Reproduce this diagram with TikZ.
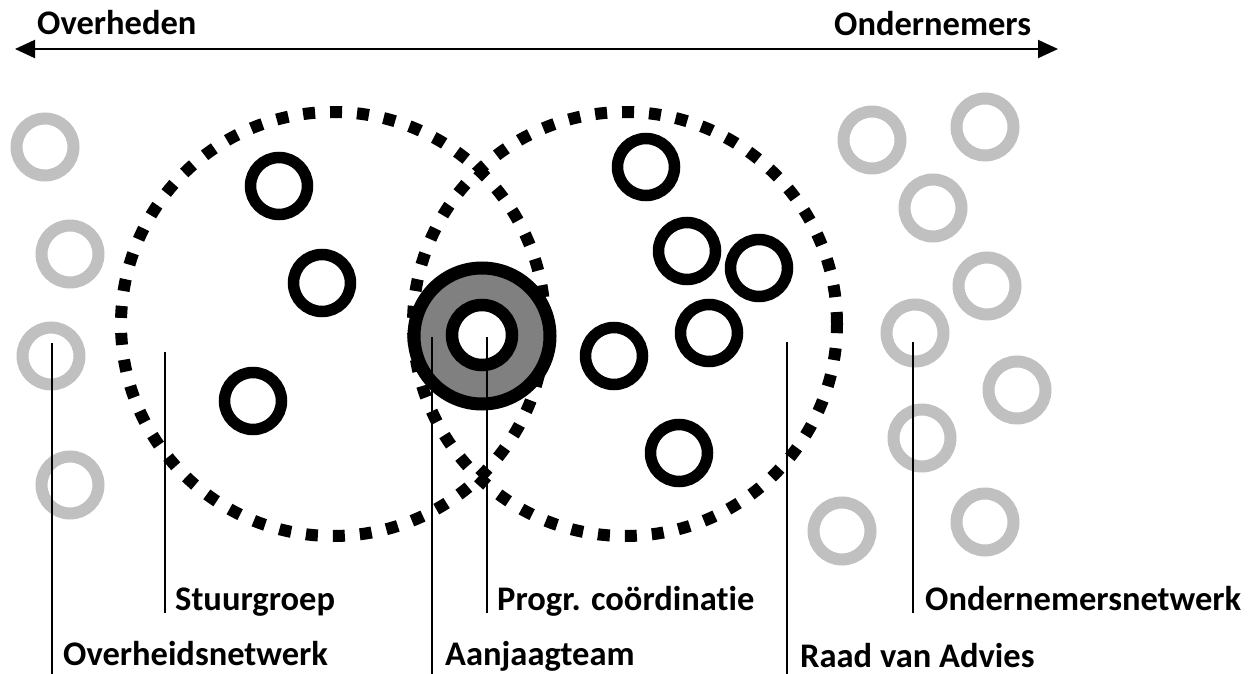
\documentclass[tikz,border=0pt]{standalone}
\usepackage{fontspec}
\setmainfont[Ligatures=NoCommon]{Carlito}
\usetikzlibrary{arrows.meta}
\definecolor{ringgray}{HTML}{C0C0C0}
\definecolor{teamgray}{HTML}{808080}
\tikzset{
  dashcirc/.style={circle, draw=black, line width=12pt, dash pattern=on 12pt off 15pt, inner sep=0pt, minimum size=424pt},
  blackring/.style={circle, draw=black, line width=11.5pt, inner sep=0pt, minimum size=57pt},
  grayring/.style={circle, draw=ringgray, line width=12pt, inner sep=0pt, minimum size=57pt},
  teamcirc/.style={circle, draw=black, fill=teamgray, line width=13pt, inner sep=0pt, minimum size=136pt},
  coordring/.style={circle, draw=black, fill=white, line width=12.5pt, inner sep=0pt, minimum size=60pt},
  lbl/.style={anchor=base west, inner sep=0pt, font=\fontsize{34.5}{40}\selectfont\bfseries},
  leader/.style={draw=black, line width=2.8pt},
  axis/.style={draw=black, line width=2pt, {Triangle[length=20pt,width=18pt]}-{Triangle[length=20pt,width=18pt]}}
}
\begin{document}
\begin{tikzpicture}[x=1pt,y=-1pt]
\useasboundingbox (0,0) rectangle (1250,674);
% top axis
\coordinate (axL) at (15,49);
\coordinate (axR) at (1058,49);
\draw[axis] (axL) -- (axR);
\node[lbl] (overheden) at (37,35) {Overheden};
\node[lbl] (ondernemers) at (834,36) {Ondernemers};
% dashed groups
\node[dashcirc] (stuur) at (333,324) {};
\node[dashcirc] (raad) at (625,324) {};
% gray network rings left
\node[grayring] (g1) at (45,147) {};
\node[grayring] (g2) at (70,254) {};
\node[grayring] (g3) at (51,356) {};
\node[grayring] (g4) at (70,485) {};
% gray network rings right
\node[grayring] (r1) at (872,140) {};
\node[grayring] (r2) at (985,127) {};
\node[grayring] (r3) at (933,208) {};
\node[grayring] (r4) at (987,286) {};
\node[grayring] (r5) at (915,333) {};
\node[grayring] (r6) at (1017,390) {};
\node[grayring] (r7) at (922,438) {};
\node[grayring] (r8) at (842,531) {};
\node[grayring] (r9) at (985,522) {};
% black rings
\node[blackring] (b1) at (279,186) {};
\node[blackring] (b2) at (322,283) {};
\node[blackring] (b3) at (253,401) {};
\node[blackring] (b4) at (646,167) {};
\node[blackring] (b5) at (687,251) {};
\node[blackring] (b6) at (759,268) {};
\node[blackring] (b7) at (709,333) {};
\node[blackring] (b8) at (614,356) {};
\node[blackring] (b9) at (679,453) {};
% aanjaagteam
\node[teamcirc] (team) at (482,336) {};
\node[coordring] (prog) at (482,335) {};
% labels
\node[lbl] (lStuur) at (175,610) {Stuurgroep};
\node[lbl] (lOverheid) at (63,665) {Overheidsnetwerk};
\node[lbl] (lTeam) at (445,665) {Aanjaagteam};
\node[lbl] (lProg) at (497,610) {Progr. coördinatie};
\node[lbl] (lOnder) at (925,610) {Ondernemersnetwerk};
\node[lbl] (lRaad) at (800,667) {Raad van Advies};
% leader lines
\coordinate (tStuur) at (165,352);   \coordinate (eStuur) at (165,613);
\coordinate (tOver) at (52,343);     \coordinate (eOver) at (52,674);
\coordinate (tTeam) at (432,337);    \coordinate (eTeam) at (432,674);
\coordinate (tProg) at (487,337);    \coordinate (eProg) at (487,613);
\coordinate (tRaad) at (787,342);    \coordinate (eRaad) at (787,674);
\coordinate (tOnder) at (913,342);   \coordinate (eOnder) at (913,613);
\draw[leader] (tStuur) -- (eStuur);
\draw[leader] (tOver) -- (eOver);
\draw[leader] (tTeam) -- (eTeam);
\draw[leader] (tProg) -- (eProg);
\draw[leader] (tRaad) -- (eRaad);
\draw[leader] (tOnder) -- (eOnder);
\end{tikzpicture}
\end{document}
